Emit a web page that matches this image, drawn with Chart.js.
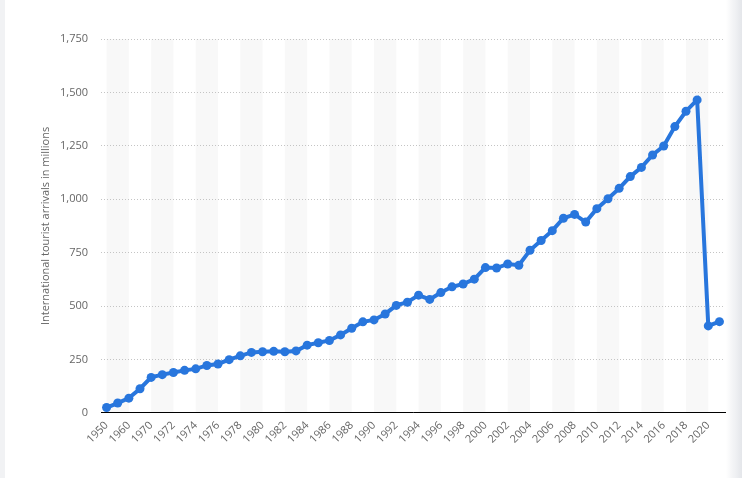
<!DOCTYPE html>
<html>
<head>
<meta charset="utf-8">
<script src="https://cdn.jsdelivr.net/npm/chart.js@4"></script>
<style>
  html, body { margin: 0; padding: 0; background: #fff; }
  #wrap { position: relative; width: 742px; height: 478px; }
  #edgeL { position: absolute; left: 0; top: 0; width: 5px; height: 478px; background: #f1f2f4; }
  #edgeR { position: absolute; right: 0; top: 0; width: 16px; height: 478px;
           background: linear-gradient(to right, rgba(235,237,240,0), rgba(228,230,234,1)); }
</style>
</head>
<body>
<div id="wrap">
  <canvas id="c" width="742" height="478"></canvas>
  <div id="edgeL"></div>
  <div id="edgeR"></div>
</div>
<script>
// years on the x axis
const years = [
  "1950", "1955", "1960", "1965",
  "1970", "1971", "1972", "1973", "1974", "1975", "1976", "1977", "1978", "1979",
  "1980", "1981", "1982", "1983", "1984", "1985", "1986", "1987", "1988", "1989",
  "1990", "1991", "1992", "1993", "1994", "1995", "1996", "1997", "1998", "1999",
  "2000", "2001", "2002", "2003", "2004", "2005", "2006", "2007", "2008", "2009",
  "2010", "2011", "2012", "2013", "2014", "2015", "2016", "2017", "2018", "2019",
  "2020", "2021"
];

// arrivals in millions
const arrivals = [
  25, 46, 69, 113,
  166, 179, 189, 199, 206, 222, 229, 249, 267, 283,
  286, 288, 286, 290, 317, 328, 339, 365, 396, 426,
  435, 463, 503, 518, 551, 531, 563, 590, 603, 626,
  680, 678, 697, 691, 761, 807, 853, 911, 929, 893,
  956, 1002, 1051, 1106, 1149, 1207, 1249, 1340, 1412, 1465,
  407, 427
];

const yTicks = [0, 250, 500, 750, 1000, 1250, 1500, 1750];

// grey stripes behind everything, two categories wide every four
const stripes = {
  id: "stripes",
  beforeDraw(chart) {
    const { ctx, chartArea, scales } = chart;
    ctx.save();
    ctx.fillStyle = "#f8f8f8";
    for (let i = 0; i + 2 < years.length; i += 4) {
      const x0 = scales.x.getPixelForValue(i);
      const x1 = scales.x.getPixelForValue(i + 2);
      ctx.fillRect(x0, chartArea.top, x1 - x0, chartArea.bottom - chartArea.top);
    }
    ctx.restore();
  }
};

new Chart(document.getElementById("c"), {
  type: "line",
  data: {
    labels: years,
    datasets: [{
      data: arrivals,
      borderColor: "#2876dd",
      backgroundColor: "#2876dd",
      borderWidth: 4,
      pointRadius: 4.5,
      pointBorderWidth: 0,
      tension: 0
    }]
  },
  plugins: [stripes],
  options: {
    responsive: false,
    animation: false,
    layout: { padding: { left: 26, right: 17, top: 39, bottom: 26 } },
    plugins: { legend: { display: false }, tooltip: { enabled: false } },
    scales: {
      x: {
        offset: true,
        grid: { display: false, drawTicks: false },
        border: { display: true, color: "#000", width: 1 },
        ticks: {
          autoSkip: false,
          minRotation: 45,
          maxRotation: 45,
          padding: 6,
          color: "#666",
          font: { family: "Open Sans", size: 11 },
          callback: (v, i) => (i % 2 === 0 ? years[i] : null)
        }
      },
      y: {
        min: 0,
        max: 1750,
        afterBuildTicks: s => { s.ticks = yTicks.map(v => ({ value: v })); },
        afterFit: s => { s.width = 75; },
        grid: { color: "#c4c4c4", drawTicks: false, tickLength: 0 },
        border: { display: false, dash: [1, 2] },
        ticks: {
          padding: 13,
          color: "#666",
          font: { family: "Open Sans", size: 11 },
          callback: v => v.toLocaleString("en-US")
        },
        title: {
          display: true,
          text: "International tourist arrivals in millions",
          color: "#666",
          font: { family: "Open Sans", size: 11 },
          padding: { top: 13, bottom: 8 }
        }
      }
    }
  }
});
</script>
</body>
</html>
